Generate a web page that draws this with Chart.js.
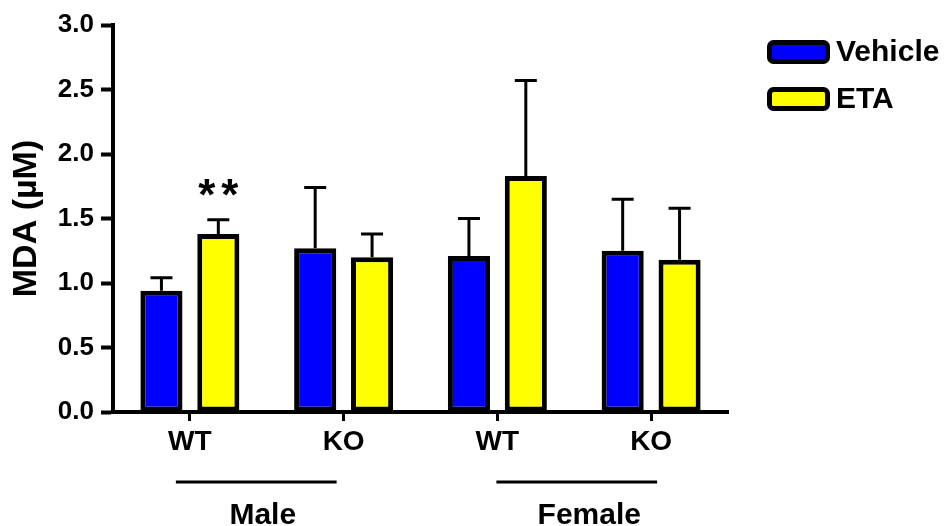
<!DOCTYPE html>
<html>
<head>
<meta charset="utf-8">
<script src="https://cdn.jsdelivr.net/npm/chart.js@4.4.1/dist/chart.umd.min.js"></script>
<style>
  html, body { margin: 0; padding: 0; background: #fff; }
  #wrap { width: 951px; height: 526px; }
</style>
</head>
<body>
<div id="wrap"><canvas id="chart" width="951" height="526"></canvas></div>
<script>
// values (MDA, µM)
const categories = ['WT', 'KO', 'WT', 'KO'];
const seriesNames = ['Vehicle', 'ETA'];
const vehicleMeans = [0.94, 1.27, 1.21, 1.25];
const vehicleErrors = [0.10, 0.47, 0.29, 0.40];
const etaMeans = [1.38, 1.20, 1.83, 1.18];
const etaErrors = [0.11, 0.18, 0.74, 0.40];
const yTicks = [0, 0.5, 1.0, 1.5, 2.0, 2.5, 3.0];
const groups = [
    { label: 'Male', from: 0, to: 1 },
    { label: 'Female', from: 2, to: 3 }
];
const significance = [{ dataset: 1, index: 0, text: '**' }];

const FONT = "'Liberation Sans', Arial, sans-serif";
Chart.defaults.font.family = FONT;
Chart.defaults.color = '#000';

// how the group bars sit relative to their tick marks (px)
const groupLineShift = [[-14, -7], [-1, 6]];
const groupTextShift = [-4, 15];

// vertical up-only error bars with a cap
const errorBars = {
    id: 'errorBars',
    afterDatasetsDraw(chart) {
        const { ctx, scales: { y } } = chart;
        ctx.save();
        ctx.strokeStyle = '#000';
        ctx.lineWidth = 3;
        chart.data.datasets.forEach((ds, i) => {
            chart.getDatasetMeta(i).data.forEach((bar, j) => {
                const top = y.getPixelForValue(ds.data[j] + ds.errors[j]);
                ctx.beginPath();
                ctx.moveTo(bar.x, bar.y);
                ctx.lineTo(bar.x, top);
                ctx.moveTo(bar.x - 11, top);
                ctx.lineTo(bar.x + 11, top);
                ctx.stroke();
            });
        });
        // significance stars, one glyph at a time so they spread like the original
        ctx.fillStyle = '#000';
        ctx.font = 'bold 44px ' + FONT;
        ctx.textAlign = 'center';
        ctx.textBaseline = 'alphabetic';
        significance.forEach(s => {
            const ds = chart.data.datasets[s.dataset];
            const bar = chart.getDatasetMeta(s.dataset).data[s.index];
            const top = y.getPixelForValue(ds.data[s.index] + ds.errors[s.index]);
            const chars = s.text.split('');
            chars.forEach((c, k) => {
                const dx = (k - (chars.length - 1) / 2) * 23;
                ctx.fillText(c, bar.x + dx, top - 10);
            });
        });
        ctx.restore();
    }
};

// sex grouping lines under the x axis + custom legend
const extras = {
    id: 'extras',
    afterDraw(chart) {
        const { ctx, scales: { x } } = chart;
        ctx.save();
        ctx.strokeStyle = '#000';
        ctx.fillStyle = '#000';
        ctx.lineWidth = 3;
        ctx.font = 'bold 30px ' + FONT;
        ctx.textAlign = 'center';
        ctx.textBaseline = 'middle';
        groups.forEach((g, i) => {
            const a = x.getPixelForValue(g.from);
            const b = x.getPixelForValue(g.to);
            ctx.beginPath();
            ctx.moveTo(a + groupLineShift[i][0], 482);
            ctx.lineTo(b + groupLineShift[i][1], 482);
            ctx.stroke();
            ctx.fillText(g.label, (a + b) / 2 + groupTextShift[i], 516);
        });

        // legend
        ctx.textAlign = 'left';
        ctx.font = 'bold 30px ' + FONT;
        chart.data.datasets.forEach((ds, i) => {
            const top = 42.5 + i * 47;
            ctx.beginPath();
            ctx.roundRect(769.5, top, 58, 19, 4);
            ctx.fillStyle = ds.backgroundColor;
            ctx.fill();
            ctx.lineWidth = 5;
            ctx.stroke();
            ctx.fillStyle = '#000';
            ctx.fillText(ds.label, 836, top + 10);
        });
        ctx.restore();
    }
};

new Chart(document.getElementById('chart'), {
    type: 'bar',
    data: {
        labels: categories,
        datasets: [
            {
                label: seriesNames[0],
                data: vehicleMeans,
                errors: vehicleErrors,
                backgroundColor: '#0000ff',
                borderColor: '#000',
                borderWidth: 5,
                borderSkipped: false,
                barPercentage: 0.74,
                categoryPercentage: 0.74
            },
            {
                label: seriesNames[1],
                data: etaMeans,
                errors: etaErrors,
                backgroundColor: '#ffff00',
                borderColor: '#000',
                borderWidth: 5,
                borderSkipped: false,
                barPercentage: 0.74,
                categoryPercentage: 0.74
            }
        ]
    },
    options: {
        responsive: false,
        animation: false,
        devicePixelRatio: 1,
        layout: { padding: { top: 25, right: 223, left: 0, bottom: 0 } },
        plugins: {
            legend: { display: false },
            tooltip: { enabled: false }
        },
        scales: {
            x: {
                afterFit(scale) { scale.height = 114; },
                border: { display: true, color: '#000', width: 4 },
                grid: {
                    offset: false,
                    drawOnChartArea: false,
                    drawTicks: true,
                    tickLength: 9,
                    tickWidth: 3,
                    tickColor: '#000'
                },
                ticks: {
                    color: '#000',
                    padding: 4,
                    font: { size: 28, weight: 'bold' }
                }
            },
            y: {
                min: 0,
                max: 3,
                afterFit(scale) { scale.width = 113; },
                afterBuildTicks(scale) { scale.ticks = yTicks.map(v => ({ value: v })); },
                border: { display: true, color: '#000', width: 4 },
                grid: {
                    drawOnChartArea: false,
                    drawTicks: true,
                    tickLength: 12,
                    tickWidth: 4,
                    tickColor: '#000'
                },
                ticks: {
                    color: '#000',
                    padding: 7,
                    font: { size: 26, weight: 'bold' },
                    callback: v => v.toFixed(1)
                },
                title: {
                    display: true,
                    text: 'MDA (µM)',
                    color: '#000',
                    font: { size: 34, weight: 'bold' },
                    padding: { top: 6, bottom: 0 }
                }
            }
        }
    },
    plugins: [errorBars, extras]
});
</script>
</body>
</html>
